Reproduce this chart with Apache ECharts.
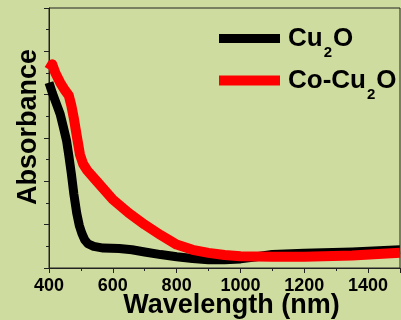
<!DOCTYPE html>
<html>
<head>
<meta charset="utf-8">
<script src="https://cdn.jsdelivr.net/npm/echarts@6/dist/echarts.min.js"></script>
<style>
html,body{margin:0;padding:0;background:#cfdc9f;}
#c{width:401px;height:320px;}
</style>
</head>
<body>
<div id="c"></div>
<script>
const seriesNames = ['Cu2O', 'Co-Cu2O'];
const cu2oWavelength = [400,410,425,435,445,455,462,470,478,487,495,503,512,522,540,570,620,660,700,750,800,850,900,950,1000,1050,1100,1200,1350,1500];
const cu2oAbsorbance = [4.28,4.05,3.75,3.55,3.25,2.94,2.6,2.18,1.7,1.26,0.98,0.80,0.65,0.56,0.50,0.46,0.45,0.42,0.37,0.31,0.26,0.22,0.19,0.19,0.21,0.26,0.31,0.34,0.37,0.42];
const coCu2oWavelength = [400,410,420,435,450,462,470,478,487,497,507,520,550,600,650,700,750,800,850,900,950,1000,1100,1200,1350,1500];
const coCu2oAbsorbance = [4.58,4.70,4.50,4.28,4.10,3.98,3.75,3.45,3.05,2.62,2.40,2.25,2.00,1.58,1.27,1.00,0.76,0.54,0.42,0.35,0.30,0.27,0.26,0.26,0.29,0.35];
const xTickInterval = 200;

const pairs = (xs, ys) => xs.map((x, i) => [x, ys[i]]);
const legendFmt = {
  'Cu2O': '{f|Cu}{s|2}{a|O}',
  'Co-Cu2O': '{f|Co-Cu}{s|2}{a|O}'
};
const richLegend = {
  f: {fontSize: 26, fontWeight: 'bold', fontFamily: 'Liberation Sans', color: '#000', lineHeight: 26, verticalAlign: 'middle', padding: [0,0,0,3]},
  a: {fontSize: 26, fontWeight: 'bold', fontFamily: 'Liberation Sans', color: '#000', lineHeight: 26, verticalAlign: 'middle'},
  s: {fontSize: 15, fontWeight: 'bold', fontFamily: 'Liberation Sans', color: '#000', lineHeight: 14, verticalAlign: 'middle', padding: [28,1,0,1]}
};
const chart = echarts.init(document.getElementById('c'), null, {renderer: 'canvas'});
const axisCol = '#222';
chart.setOption({
  backgroundColor: '#cfdc9f',
  animation: false,
  grid: {left: 49, right: 1, top: 8, bottom: 52, containLabel: false, outerBoundsMode: 'none',
    show: true, borderColor: axisCol, borderWidth: 1, backgroundColor: 'transparent'},
  legend: [
    {data: [seriesNames[0]], left: 219, top: 17, padding: 0, icon: 'rect', itemWidth: 61, itemHeight: 9,
     formatter: n => legendFmt[n], textStyle: {rich: richLegend}},
    {data: [seriesNames[1]], left: 219, top: 59, padding: 0, icon: 'rect', itemWidth: 61, itemHeight: 10,
     formatter: n => legendFmt[n], textStyle: {rich: richLegend}}
  ],
  xAxis: {
    type: 'value', min: 400, max: 1500, interval: xTickInterval,
    name: 'Wavelength (nm)', nameLocation: 'middle', nameGap: 24, nameMoveOverlap: false,
    nameTextStyle: {fontSize: 27, fontWeight: 'bold', fontFamily: 'Liberation Sans', color: '#000', padding: [0,0,0,14]},
    axisLine: {lineStyle: {color: axisCol, width: 1}},
    axisTick: {show: true, inside: false, length: 5, lineStyle: {color: axisCol}},
    minorTick: {show: true, splitNumber: 2, length: 3, lineStyle: {color: axisCol}},
    axisLabel: {fontSize: 18, fontWeight: 'bold', fontFamily: 'Liberation Sans', color: '#000', margin: 9, showMaxLabel: false,
      formatter: v => String(v)},
    splitLine: {show: false}
  },
  yAxis: {
    type: 'value', min: 0, max: 6, interval: 1,
    name: 'Absorbance', nameLocation: 'middle', nameGap: 7, nameMoveOverlap: false,
    nameTextStyle: {fontSize: 27, fontWeight: 'bold', fontFamily: 'Liberation Sans', color: '#000', padding: [0,0,0,22]},
    axisLine: {show: true, lineStyle: {color: axisCol, width: 1}},
    axisTick: {show: true, inside: false, length: 5, lineStyle: {color: axisCol}},
    minorTick: {show: true, splitNumber: 2, length: 3, lineStyle: {color: axisCol}},
    axisLabel: {show: false},
    splitLine: {show: false}
  },
  series: [
    {name: seriesNames[0], type: 'line', data: pairs(cu2oWavelength, cu2oAbsorbance), showSymbol: false,
     smooth: false, color: '#000', lineStyle: {width: 9, color: '#000', cap: 'butt', join: 'round'}},
    {name: seriesNames[1], type: 'line', data: pairs(coCu2oWavelength, coCu2oAbsorbance), showSymbol: false,
     smooth: false, color: '#ff0000', lineStyle: {width: 10, color: '#ff0000', cap: 'butt', join: 'round'}}
  ]
});
</script>
</body>
</html>
